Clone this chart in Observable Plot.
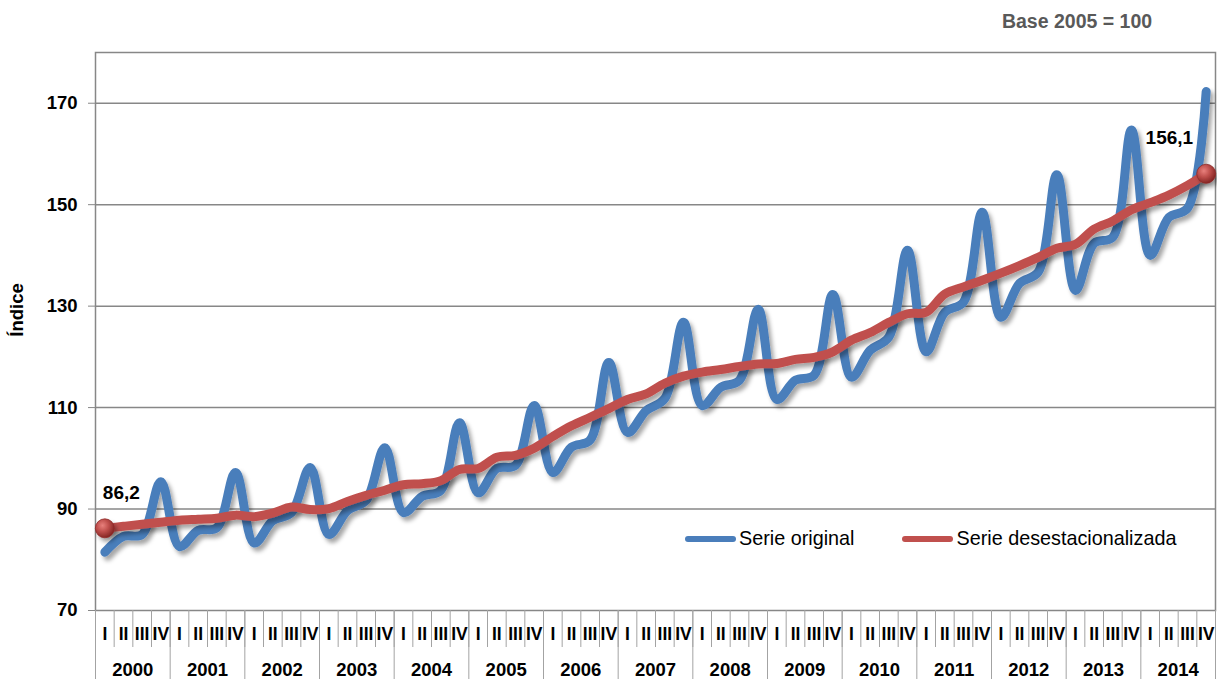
<!DOCTYPE html>
<html>
<head>
<meta charset="utf-8">
<script src="https://cdn.jsdelivr.net/npm/d3@7"></script>
<script src="https://cdn.jsdelivr.net/npm/@observablehq/plot@0.6"></script>
<style>
  html, body { margin: 0; padding: 0; background: #fff; }
  #wrap { position: relative; width: 1217px; height: 679px; font-family: Arial, "Liberation Sans", sans-serif; color: #000; }
  #title { position: absolute; left: 977px; width: 200px; top: 10px; text-align: center; font-size: 19.5px; font-weight: bold; color: #595959; }
  #ylab { position: absolute; left: 17px; top: 310px; transform: translate(-50%, -50%) rotate(-90deg); font-size: 18.5px; font-weight: bold; white-space: nowrap; }
  #legend { position: absolute; top: 527px; left: 685px; font-size: 19.8px; display: flex; align-items: center; white-space: nowrap; }
  .sw { display: inline-block; width: 51px; height: 6px; border-radius: 3px; margin-right: 3px; }
</style>
</head>
<body>
<div id="wrap">
  <div id="chart"></div>
  <div id="title">Base 2005 = 100</div>
  <div id="ylab">Índice</div>
  <div id="legend"></div>
</div>
<script>
// ---- Data ----
const quarterLabels = ["I", "II", "III", "IV"];
const years = [2000, 2001, 2002, 2003, 2004, 2005, 2006, 2007, 2008, 2009, 2010, 2011, 2012, 2013, 2014];
const seriesNames = ["Serie original", "Serie desestacionalizada"];
const seriesColors = ["#4a7ebb", "#c0504d"];
const yTicks = [70, 90, 110, 130, 150, 170];

// Serie original (quarterly, 2000 I .. 2014 IV)
const original = [
  81.5, 84.6, 85.0, 95.4,
  82.6, 85.8, 86.3, 97.2,
  83.3, 87.7, 89.3, 98.2,
  85.0, 89.7, 91.7, 102.1,
  89.3, 92.5, 93.7, 107.0,
  93.2, 98.0, 98.6, 110.4,
  97.2, 102.2, 103.6, 118.9,
  105.1, 109.4, 111.8, 126.8,
  110.4, 114.0, 115.4, 129.4,
  111.6, 115.4, 116.4, 132.3,
  116.0, 121.3, 123.9, 141.0,
  121.0, 128.8, 130.8, 148.5,
  127.8, 134.5, 136.7, 155.9,
  133.1, 142.4, 143.6, 164.7,
  140.0, 147.5, 149.3, 172.3
];

// Serie desestacionalizada
const desest = [
  86.2, 86.6, 87.0, 87.4,
  87.8, 88.0, 88.2, 88.8,
  88.5, 89.2, 90.4, 89.9,
  90.1, 91.5, 92.7, 93.7,
  94.8, 95.0, 95.6, 97.8,
  98.0, 100.2, 100.6, 102.0,
  104.3, 106.4, 108.1, 109.8,
  111.6, 112.7, 114.8, 116.2,
  117.0, 117.5, 118.1, 118.6,
  118.7, 119.5, 119.9, 121.0,
  123.3, 124.8, 126.8, 128.5,
  128.8, 132.4, 133.8, 135.1,
  136.5, 138.0, 139.6, 141.4,
  142.2, 145.2, 146.8, 149.0,
  150.4, 151.9, 153.8, 156.1
];

// ---- Table built from arrays ----
const rows = original.map((v, i) => ({
  pos: i + 0.5,
  year: years[Math.floor(i / 4)],
  q: quarterLabels[i % 4],
  original: v,
  desest: desest[i]
}));
const ends = [rows[0], rows[rows.length - 1]];
const fmt = v => v.toFixed(1).replace(".", ",");

const gray = "#878787";
const sepGray = "#a3a3a3";
const nQ = rows.length;

const chart = Plot.plot({
  width: 1217,
  height: 679,
  marginLeft: 95,
  marginRight: 2,
  marginTop: 52,
  marginBottom: 69,
  style: { fontFamily: "Arial, 'Liberation Sans', sans-serif", color: "#000", background: "#fff" },
  x: { domain: [0, nQ], label: null },
  y: { domain: [70, 180], label: null },
  marks: [
    Plot.gridY(yTicks.slice(1), { stroke: gray, strokeOpacity: 1, strokeWidth: 1.5 }),
    Plot.frame({ stroke: gray, strokeWidth: 1.5 }),
    Plot.axisY(yTicks, { tickSize: 7, tickPadding: 11, fontSize: 18.5, fontWeight: "bold", stroke: gray, label: null }),
    // quarter separators
    Plot.axisX(d3.range(0, nQ + 1), { tickSize: 37, tickFormat: () => "", stroke: sepGray, label: null }),
    // year separators
    Plot.axisX(d3.range(0, nQ + 1, 4), { tickSize: 69, tickFormat: () => "", stroke: sepGray, label: null }),
    // quarter labels
    Plot.axisX(rows.map(d => d.pos), { tickSize: 0, tickPadding: 17, tickFormat: d => quarterLabels[Math.floor(d) % 4], fontSize: 17.5, fontWeight: "bold", label: null }),
    // year labels
    Plot.axisX(years.map((y, k) => k * 4 + 2), { tickSize: 0, tickPadding: 52, tickFormat: d => String(years[(d - 2) / 4]), fontSize: 18.5, fontWeight: "bold", label: null }),
    Plot.line(rows, { x: "pos", y: "original", stroke: seriesColors[0], strokeWidth: 9, curve: "catmull-rom", strokeLinecap: "round", strokeLinejoin: "round" }),
    Plot.line(rows, { x: "pos", y: "desest", stroke: seriesColors[1], strokeWidth: 9, curve: "catmull-rom", strokeLinecap: "round", strokeLinejoin: "round" }),
    Plot.dot(ends, { x: "pos", y: "desest", r: 9.5, fill: "url(#redBall)", stroke: "#8e2a28", strokeWidth: 0.8 }),
    Plot.text([ends[0]], { x: "pos", y: "desest", text: d => fmt(d.desest), textAnchor: "start", dx: -2, dy: -35, fontSize: 19, fontWeight: "bold", fill: "#000" }),
    Plot.text([ends[1]], { x: "pos", y: "desest", text: d => fmt(d.desest), textAnchor: "end", dx: -13, dy: -36, fontSize: 19, fontWeight: "bold", fill: "#000" })
  ]
});

// defs: shadow filter and ball gradient
const ns = "http://www.w3.org/2000/svg";
const defs = document.createElementNS(ns, "defs");
defs.innerHTML = `
  <filter id="lineShadow" filterUnits="userSpaceOnUse" x="0" y="0" width="1217" height="679">
    <feDropShadow dx="3" dy="4" stdDeviation="2.2" flood-color="#000" flood-opacity="0.35"/>
  </filter>
  <radialGradient id="redBall" cx="0.38" cy="0.35" r="0.7">
    <stop offset="0" stop-color="#e8807c"/>
    <stop offset="0.45" stop-color="#c0504d"/>
    <stop offset="1" stop-color="#7d201e"/>
  </radialGradient>`;
chart.insertBefore(defs, chart.firstChild);
chart.querySelectorAll('g[aria-label="line"]').forEach(g => g.setAttribute("filter", "url(#lineShadow)"));
chart.querySelectorAll('g[aria-label="dot"]').forEach(g => g.setAttribute("filter", "url(#lineShadow)"));

document.getElementById("chart").appendChild(chart);

// legend (inside the plot area, as in the reference)
const legend = document.getElementById("legend");
seriesNames.forEach((name, k) => {
  const item = document.createElement("span");
  item.style.display = "inline-flex";
  item.style.alignItems = "center";
  item.style.marginRight = k === 0 ? "48px" : "0";
  const sw = document.createElement("span");
  sw.className = "sw";
  sw.style.background = seriesColors[k];
  item.appendChild(sw);
  item.appendChild(document.createTextNode(name));
  legend.appendChild(item);
});
</script>
</body>
</html>
